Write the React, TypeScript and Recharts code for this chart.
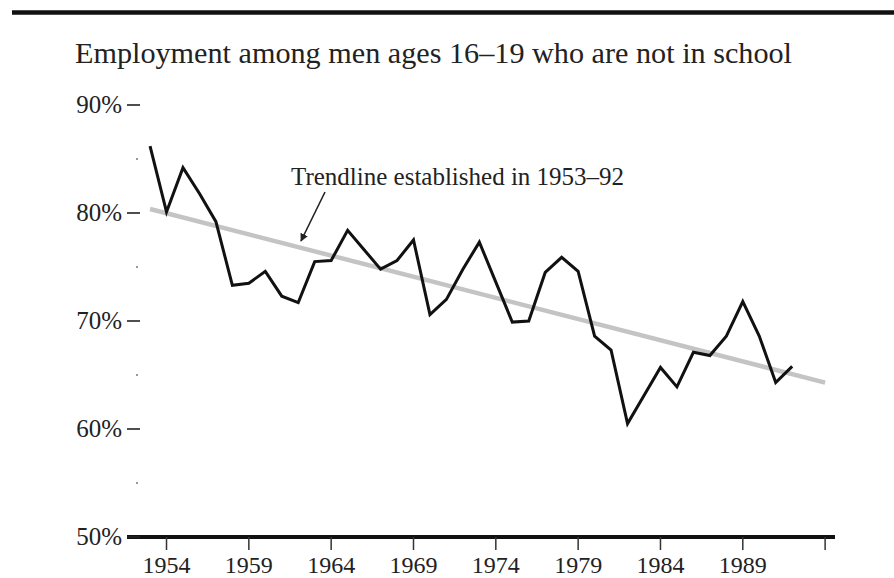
import React from 'react';
import { LineChart, Line, XAxis, YAxis } from 'recharts';

const FONT = '"Liberation Serif", "Times New Roman", serif';

// years and employment share (%)
const years = [
  1953, 1954, 1955, 1956, 1957, 1958, 1959, 1960, 1961, 1962,
  1963, 1964, 1965, 1966, 1967, 1968, 1969, 1970, 1971, 1972,
  1973, 1974, 1975, 1976, 1977, 1978, 1979, 1980, 1981, 1982,
  1983, 1984, 1985, 1986, 1987, 1988, 1989, 1990, 1991, 1992,
];
const employment = [
  86.2, 80.1, 84.2, 81.8, 79.2, 73.3, 73.5, 74.6, 72.3, 71.7,
  75.5, 75.6, 78.4, 76.6, 74.8, 75.6, 77.5, 70.6, 72.0, 74.8,
  77.3, 73.6, 69.9, 70.0, 74.5, 75.9, 74.6, 68.6, 67.3, 60.5,
  63.1, 65.7, 63.9, 67.1, 66.8, 68.6, 71.8, 68.6, 64.3, 65.8,
];

// trendline end points
const trendYears = [1953, 1994];
const trendValues = [80.37, 64.3];

const xTicks = [1954, 1959, 1964, 1969, 1974, 1979, 1984, 1989, 1994];
const yTicks = [50, 55, 60, 65, 70, 75, 80, 85, 90];

const TITLE = 'Employment among men ages 16\u201319 who are not in school';
const NOTE = 'Trendline established in 1953\u201392';

const series = years.map((y, i) => ({ year: y, pct: employment[i] }));
const trend = trendYears.map((y, i) => ({ year: y, pct: trendValues[i] }));

const YTick = (props: any) => {
  const { x, y, payload } = props;
  const v = payload.value;
  if (v % 10 !== 0) {
    return <rect x={x + 9} y={y - 1} width={2} height={2} fill="#999" />;
  }
  return (
    <g>
      <text x={x - 5} y={y} dy={8} textAnchor="end" fontSize={25} fontFamily={FONT} fill="#222">
        {v}%
      </text>
      <line x1={x} x2={x + 13} y1={y} y2={y} stroke="#222" strokeWidth={1.6} />
    </g>
  );
};

export default function App() {
  return (
    <div style={{ position: 'absolute', left: 0, top: 0, width: 894, height: 578, background: '#fff' }}>
      <LineChart
        width={894}
        height={578}
        margin={{ top: 105, right: 59, bottom: 0, left: 50 }}
      >
        <XAxis
          dataKey="year"
          type="number"
          domain={[1951.6, 1994.6]}
          ticks={xTicks}
          interval={0}
          allowDataOverflow
          tickFormatter={(v: number) => (v === 1994 ? '' : String(v))}
          axisLine={{ stroke: '#111', strokeWidth: 4 }}
          tickLine={{ stroke: '#333', strokeWidth: 1.5 }}
          tickSize={13}
          tickMargin={6}
          height={41}
          tick={{ fill: '#222', fontSize: 24, fontFamily: FONT }}
        />
        <YAxis
          domain={[50, 90]}
          ticks={yTicks}
          interval={0}
          width={77}
          axisLine={false}
          tickLine={false}
          tickSize={0}
          tickMargin={0}
          tick={<YTick />}
        />
        <Line
          data={trend}
          dataKey="pct"
          stroke="#c4c4c4"
          strokeWidth={4.5}
          dot={false}
          activeDot={false}
          isAnimationActive={false}
        />
        <Line
          data={series}
          dataKey="pct"
          stroke="#111"
          strokeWidth={3}
          strokeLinejoin="miter"
          dot={false}
          activeDot={false}
          isAnimationActive={false}
        />
      </LineChart>
      <svg
        width={894}
        height={578}
        style={{ position: 'absolute', left: 0, top: 0, pointerEvents: 'none' }}
      >
        <defs>
          <marker id="arrowHead" viewBox="0 0 10 10" refX="9" refY="5" markerWidth="5" markerHeight="5" orient="auto">
            <path d="M0,0 L10,5 L0,10 z" fill="#222" />
          </marker>
        </defs>
        <line x1={12} x2={894} y1={12.5} y2={12.5} stroke="#111" strokeWidth={4.5} />
        <text
          x={75}
          y={63}
          fontSize={29}
          fontFamily={FONT}
          fill="#222"
          textLength={717}
          lengthAdjust="spacingAndGlyphs"
        >
          {TITLE}
        </text>
        <text x={291} y={185} fontSize={25} fontFamily={FONT} fill="#222">
          {NOTE}
        </text>
        <line
          x1={325}
          y1={192}
          x2={301}
          y2={241}
          stroke="#222"
          strokeWidth={1.6}
          markerEnd="url(#arrowHead)"
        />
      </svg>
    </div>
  );
}
